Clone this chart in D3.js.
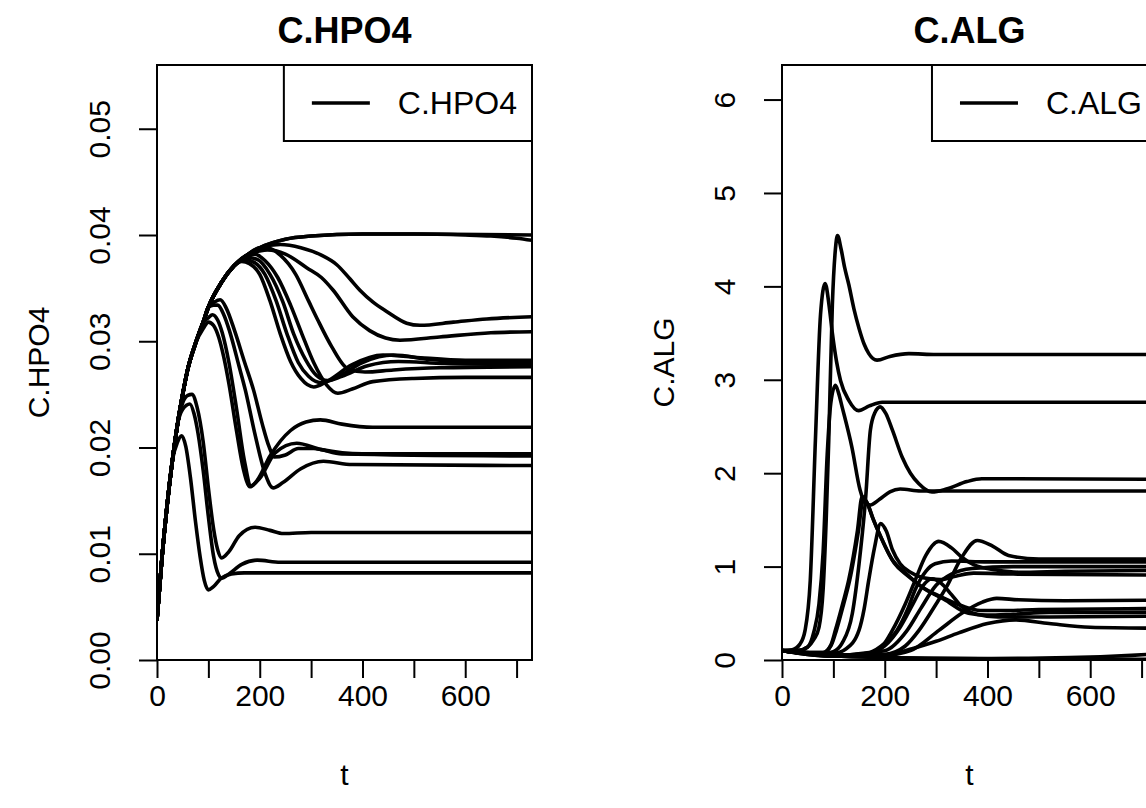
<!DOCTYPE html>
<html><head><meta charset="utf-8">
<script src="https://cdn.jsdelivr.net/npm/d3@7"></script>
<style>
body{margin:0;background:#fff}
svg{display:block}
text{font-family:"Liberation Sans",Arial,Helvetica,sans-serif;fill:#000}
</style>
</head><body>
<svg id="chart" width="1146" height="808"></svg>
<script>
// ---------------- data ----------------
const panelTitles = ["C.HPO4", "C.ALG"];
const yLabels = ["C.HPO4", "C.ALG"];
const legendLabels = ["C.HPO4", "C.ALG"];
const xLabel = "t";
const xTicks = [0, 100, 200, 300, 400, 500, 600, 700];
const xTickLabels = [0, 200, 400, 600];
const hpo4Ticks = [0, 0.01, 0.02, 0.03, 0.04, 0.05];
const hpo4TickLabels = ["0.00", "0.01", "0.02", "0.03", "0.04", "0.05"];
const algTicks = [0, 1, 2, 3, 4, 5, 6];
const algTickLabels = ["0", "1", "2", "3", "4", "5", "6"];

// common early rise of C.HPO4 (t, value)
const hpo4Rise = [[0,.0038],[10,.0098],[20,.0147],[30,.0188],[40,.0222],[50,.025],[60,.0274],[75,.0298],[90,.0318],[100,.0332],[125,.0355],[150,.0371],[175,.0381],[200,.0388],[250,.0396],[300,.0399],[400,.0401]];
const upTo = t => hpo4Rise.filter(d => d[0] <= t);

const hpo4Runs = [
  [...upTo(400), [500,.0401],[730,.0400]],
  [...upTo(400), [500,.0401],[600,.0400],[650,.0399],[700,.0397],[730,.0395]],
  [...upTo(200), [240,.0391],[280,.0388],[320,.0381],[350,.0372],[375,.0359],[395,.0348],[420,.0337],[447,.0328],[486,.0317],[512,.0315],[577,.0318],[642,.0321],[730,.0323]],
  [...upTo(175), [200,.0385],[215,.0386],[250,.0382],[292,.0369],[320,.0360],[343,.0348],[381,.0323],[414,.0310],[445,.0303],[473,.0301],[550,.0304],[650,.0308],[730,.0309]],
  [...upTo(150), [165,.0375],[180,.0373],[200,.0363],[220,.0338],[240,.0307],[260,.0281],[280,.0265],[305,.0257],[330,.0262],[380,.0278],[440,.0287],[500,.0285],[600,.0282],[730,.0282]],
  [...upTo(150), [170,.0377],[190,.0374],[210,.0363],[232,.0338],[253,.0307],[275,.0280],[295,.0267],[320,.0261],[350,.0266],[400,.0280],[460,.0287],[530,.0283],[620,.0280],[730,.0280]],
  [...upTo(150), [175,.0379],[195,.0377],[220,.0363],[245,.0337],[266,.0307],[290,.0282],[310,.0268],[332,.0263],[360,.0267],[410,.0277],[470,.0281],[560,.0279],[730,.0278]],
  [...upTo(175), [190,.0382],[210,.0376],[235,.0360],[260,.0334],[282,.0307],[305,.0280],[330,.0259],[352,.0251],[380,.0255],[420,.0262],[500,.0265],[600,.0266],[730,.0266]],
  [...upTo(200), [215,.0388],[240,.0381],[270,.0363],[295,.0338],[312,.0321],[340,.0295],[372,.0274],[405,.0271],[460,.0273],[550,.0275],[730,.0276]],
  [...upTo(75), [90,.0312],[100,.0318],[110,.0315],[120,.0304],[130,.0285],[140,.0260],[155,.0215],[168,.0180],[181,.0163],[195,.0169],[220,.0192],[260,.0216],[290,.0224],[318,.0226],[360,.0222],[420,.0219],[730,.0219]],
  [...upTo(90), [100,.0322],[108,.0325],[118,.0320],[127,.0308],[140,.0280],[155,.0236],[170,.0188],[183,.0164],[200,.0171],[230,.0195],[272,.0204],[320,.0198],[400,.0194],[730,.0194]],
  [...upTo(100), [110,.0334],[118,.0334],[130,.0325],[141,.0310],[160,.0276],[172,.0254],[190,.0214],[210,.0176],[226,.0162],[245,.0167],[280,.0180],[324,.0187],[380,.0184],[730,.0183]],
  [...upTo(100), [112,.0337],[123,.0339],[135,.0331],[151,.0310],[170,.0281],[188,.0254],[205,.0222],[218,.0201],[228,.0191],[250,.0193],[275,.0199],[305,.0199],[360,.0194],[730,.0192]],
  [...upTo(30), [40,.0205],[48,.0211],[56,.0201],[65,.0172],[75,.0130],[84,.0097],[92,.0075],[100,.0066],[110,.0069],[125,.0077],[145,.0081],[170,.0082],[730,.0082]],
  [...upTo(40), [50,.0236],[64,.0241],[72,.0232],[80,.0213],[90,.0178],[100,.0135],[110,.0098],[120,.0080],[126,.0077],[140,.0081],[165,.0090],[195,.0094],[240,.0092],[730,.0092]],
  [...upTo(40), [50,.0242],[60,.0249],[68,.0250],[78,.0238],[90,.0205],[100,.0162],[110,.0124],[118,.0104],[126,.0096],[140,.0102],[160,.0117],[191,.0125],[220,.0122],[246,.0119],[300,.0120],[730,.0120]]
];

const algRuns = [
  [[0,.1],[50,.07],[100,.045],[200,.025],[400,.012],[730,.006]],
  [[0,.1],[50,.07],[100,.045],[200,.025],[300,.018],[400,.016],[480,.018],[560,.025],[620,.035],[680,.05],[730,.065]],
  [[0,.1],[20,.11],[35,.17],[45,.32],[55,.85],[65,2.35],[75,3.7],[84,4.03],[92,3.78],[98,3.5],[106,3.2],[114,2.99],[130,2.78],[149,2.67],[170,2.72],[195,2.76],[250,2.76],[730,2.76]],
  [[0,.1],[30,.1],[50,.14],[62,.22],[72,.35],[80,.75],[86,1.5],[91,2.35],[98,3.8],[104,4.4],[108,4.545],[115,4.4],[122,4.2],[130,4.02],[140,3.76],[150,3.55],[160,3.38],[169,3.28],[185,3.21],[210,3.25],[247,3.28],[300,3.27],[730,3.27]],
  [[0,.1],[30,.1],[50,.14],[62,.3],[72,.6],[80,1.15],[88,2.2],[95,2.75],[104,2.94],[110,2.86],[117,2.71],[136,2.28],[152,1.82],[162,1.68],[172,1.66],[190,1.72],[210,1.8],[230,1.83],[270,1.81],[730,1.81]],
  [[0,.1],[50,.08],[80,.07],[100,.09],[117,.18],[137,.5],[150,1.03],[163,1.75],[172,2.46],[181,2.65],[191,2.71],[202,2.64],[215,2.46],[234,2.17],[250,2.0],[266,1.89],[292,1.8],[320,1.83],[360,1.91],[389,1.94],[450,1.94],[730,1.935]],
  [[0,.1],[50,.08],[80,.08],[95,.16],[104,.32],[118,.6],[130,.86],[147,1.39],[156,1.75],[164,1.7],[176,1.53],[189,1.36],[215,1.07],[241,.93],[273,.78],[308,.68],[350,.58],[386,.53],[430,.53],[500,.54],[730,.55]],
  [[0,.1],[50,.08],[80,.08],[96,.16],[106,.32],[120,.6],[132,.86],[149,1.39],[158,1.72],[166,1.68],[178,1.5],[192,1.32],[218,1.04],[245,.9],[278,.76],[315,.65],[363,.5],[400,.48],[450,.49],[520,.51],[730,.51]],
  [[0,.1],[60,.07],[100,.07],[125,.12],[150,.32],[160,.55],[169,.86],[180,1.2],[192,1.46],[203,1.38],[215,1.18],[230,1.03],[250,.94],[275,.88],[308,.86],[340,.9],[373,.93],[450,.92],[730,.91]],
  [[0,.1],[100,.05],[150,.05],[190,.12],[215,.32],[240,.6],[259,.85],[280,1.12],[305,1.27],[330,1.2],[350,1.1],[373,1.02],[420,.96],[460,.94],[550,.95],[730,.96]],
  [[0,.1],[100,.04],[200,.06],[240,.15],[267,.32],[300,.6],[320,.78],[350,1.1],[380,1.28],[410,1.22],[441,1.12],[500,1.08],[730,1.08]],
  [[0,.1],[100,.05],[170,.08],[200,.18],[224,.32],[245,.55],[259,.75],[280,.95],[298,1.03],[330,1.06],[400,1.05],[730,1.05]],
  [[0,.1],[100,.05],[200,.1],[244,.32],[270,.55],[300,.8],[330,.92],[370,.98],[450,1.0],[730,1.0]],
  [[0,.1],[100,.05],[170,.07],[200,.15],[230,.35],[255,.6],[275,.8],[292,.87],[310,.82],[330,.7],[350,.57],[380,.49],[420,.46],[500,.46],[730,.47]],
  [[0,.1],[100,.05],[200,.05],[250,.1],[306,.32],[350,.5],[390,.62],[418,.66],[460,.645],[550,.635],[730,.64]],
  [[0,.1],[100,.04],[200,.04],[246,.11],[300,.2],[344,.29],[400,.39],[454,.43],[520,.39],[600,.35],[730,.34]]
];

// ---------------- drawing ----------------
const svg = d3.select("#chart");
const FS = 30;
const LEG_FS = 32;
const LW = 3.6;
const panels = [
  {left:157, right:532, yMax:0.056, ticks:hpo4Ticks, tickLabels:hpo4TickLabels, runs:hpo4Runs, title:panelTitles[0], ylab:yLabels[0], leg:legendLabels[0]},
  {left:782, right:1157, yMax:6.37, ticks:algTicks, tickLabels:algTickLabels, runs:algRuns, title:panelTitles[1], ylab:yLabels[1], leg:legendLabels[1]}
];
const plotTop = 65, plotBottom = 660;

panels.forEach((p, i) => {
  const x = d3.scaleLinear().domain([0, 730]).range([p.left, p.right]);
  const y = d3.scaleLinear().domain([0, p.yMax]).range([plotBottom, plotTop]);
  const g = svg.append("g");

  const clipId = "clip" + i;
  svg.append("clipPath").attr("id", clipId).append("rect")
    .attr("x", p.left).attr("y", plotTop).attr("width", p.right - p.left).attr("height", plotBottom - plotTop);

  const line = d3.line().x(d => x(d[0])).y(d => y(d[1])).curve(d3.curveMonotoneX);
  g.append("g").attr("clip-path", `url(#${clipId})`)
    .selectAll("path").data(p.runs).join("path")
    .attr("d", line).attr("fill", "none").attr("stroke", "#000")
    .attr("stroke-width", LW).attr("stroke-linejoin", "round").attr("stroke-linecap", "round");

  // box
  g.append("rect").attr("x", p.left).attr("y", plotTop).attr("width", p.right - p.left).attr("height", plotBottom - plotTop)
    .attr("fill", "none").attr("stroke", "#000").attr("stroke-width", 2);

  // x axis
  const xa = d3.axisBottom(x).tickValues(xTicks).tickSize(18).tickPadding(7)
    .tickFormat(d => xTickLabels.includes(d) ? String(d) : "");
  const gx = g.append("g").attr("transform", `translate(0,${plotBottom})`).call(xa);
  gx.select(".domain").remove();
  gx.append("line").attr("x1", x(xTicks[0])).attr("x2", x(xTicks[xTicks.length-1])).attr("stroke", "#000").attr("stroke-width", 2);
  gx.selectAll(".tick line").attr("stroke", "#000").attr("stroke-width", 2);
  gx.selectAll("text").attr("font-size", FS).attr("font-family", '"Liberation Sans",Arial,sans-serif').attr("fill", "#000");

  // y axis
  const ya = d3.axisLeft(y).tickValues(p.ticks).tickSize(18)
    .tickFormat((d, k) => p.tickLabels[k]);
  const gy = g.append("g").attr("transform", `translate(${p.left},0)`).call(ya);
  gy.select(".domain").remove();
  gy.append("line").attr("y1", y(p.ticks[0])).attr("y2", y(p.ticks[p.ticks.length-1])).attr("stroke", "#000").attr("stroke-width", 2);
  gy.selectAll(".tick line").attr("stroke", "#000").attr("stroke-width", 2);
  gy.selectAll("text").attr("font-size", FS).attr("font-family", '"Liberation Sans",Arial,sans-serif').attr("fill", "#000")
    .attr("x", null).attr("dy", null).attr("text-anchor", "middle")
    .attr("transform", "translate(-47,0) rotate(-90)");

  // title
  const cx = (p.left + p.right) / 2;
  g.append("text").attr("x", cx).attr("y", 43).attr("text-anchor", "middle")
    .attr("font-size", 36).attr("font-weight", "bold").text(p.title);
  // x label
  g.append("text").attr("x", cx).attr("y", 785).attr("text-anchor", "middle")
    .attr("font-size", FS).text(xLabel);
  // y label
  g.append("text").attr("transform", `translate(${p.left - 108},${(plotTop + plotBottom) / 2}) rotate(-90)`)
    .attr("text-anchor", "middle").attr("font-size", FS).text(p.ylab);

  // legend (top right)
  const lg = g.append("g");
  const lt = lg.append("text").attr("font-size", LEG_FS).attr("y", 114).text(p.leg);
  const tw = lt.node().getComputedTextLength();
  const textX = p.right - 15 - tw;
  lt.attr("x", textX);
  const lineEnd = textX - 28, lineStart = lineEnd - 58, boxLeft = lineStart - 28;
  lg.insert("rect", "text").attr("x", boxLeft).attr("y", plotTop).attr("width", p.right - boxLeft).attr("height", 141 - plotTop)
    .attr("fill", "#fff").attr("stroke", "#000").attr("stroke-width", 2);
  lg.append("line").attr("x1", lineStart).attr("x2", lineEnd).attr("y1", 103).attr("y2", 103)
    .attr("stroke", "#000").attr("stroke-width", LW);
});
</script>
</body></html>
